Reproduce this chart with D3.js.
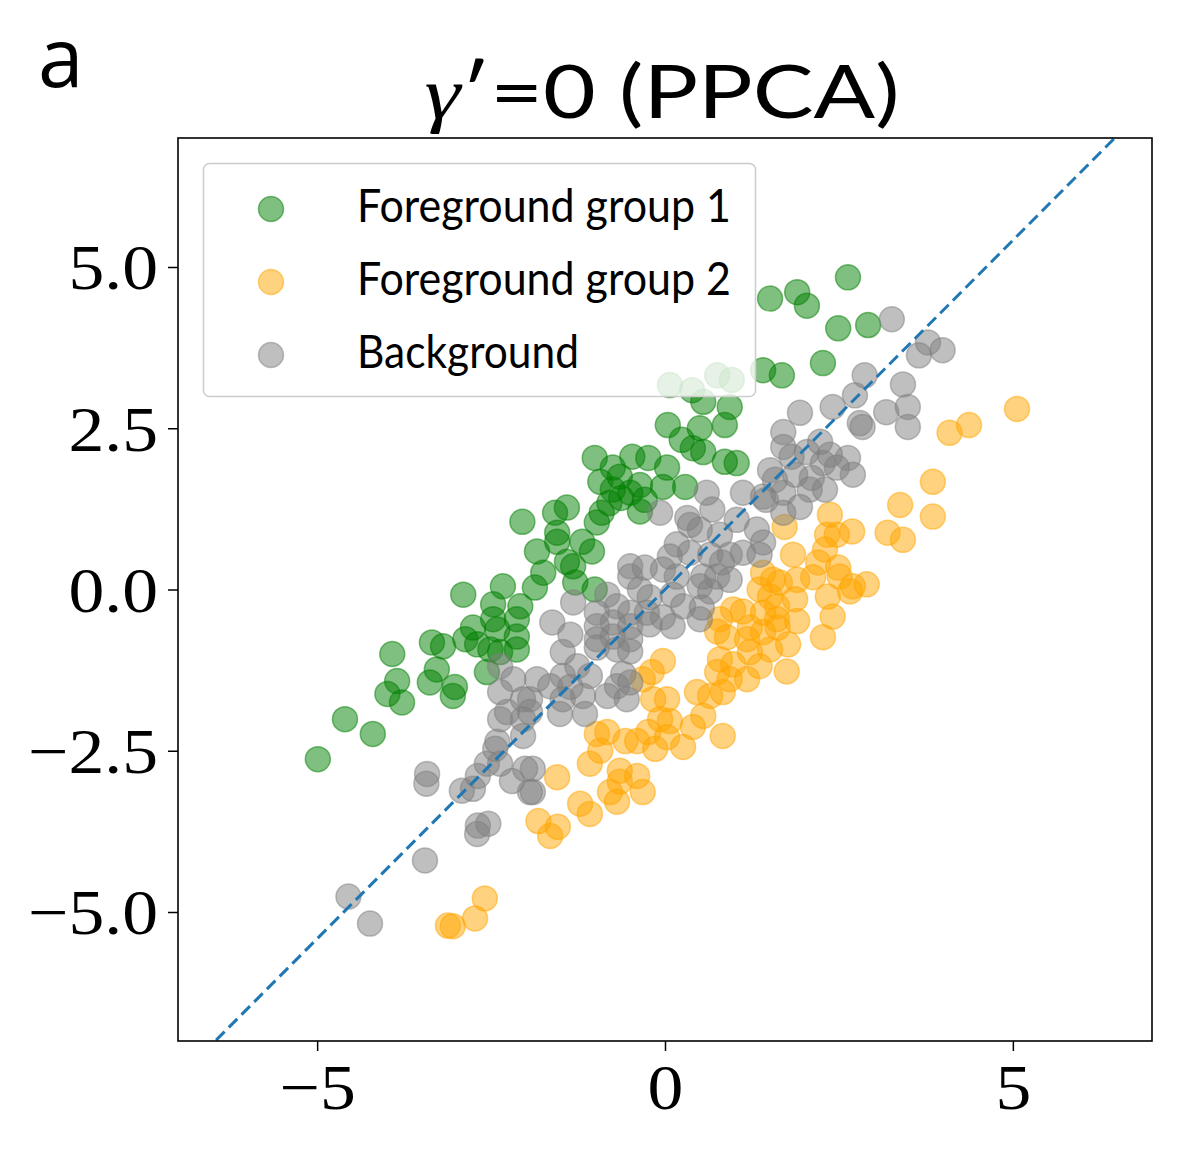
<!DOCTYPE html>
<html><head><meta charset="utf-8">
<script src="https://cdn.jsdelivr.net/npm/d3@7"></script>
<style>body{margin:0;background:#fff}</style>
</head><body>
<svg id="chart" width="1200" height="1159"></svg>
<script>
// ---- data ----
const seriesNames = ["Foreground group 1", "Foreground group 2", "Background"];
const seriesColors = ["#008000", "#FFA500", "#808080"];
const xTicks = [-5, 0, 5];
const xTickLabels = ["\u22125", "0", "5"];
const yTicks = [-5, -2.5, 0, 2.5, 5];
const yTickLabels = ["\u22125.0", "\u22122.5", "0.0", "2.5", "5.0"];
const pcLineX = [-7, 7];
const pcLineY = [-7.58, 7.58];

const group1 = [
[2.63,4.84],[1.90,4.61],[2.04,4.40],[1.51,4.51],[2.49,4.05],[2.92,4.10],[2.27,3.51],[1.68,3.32],[1.41,3.40],
[0.07,3.17],[0.39,3.09],[0.75,3.32],[0.96,3.25],[0.55,2.91],[0.93,2.83],[0.04,2.55],[0.50,2.50],[0.86,2.55],
[0.24,2.32],[0.40,2.19],[0.55,2.13],[0.86,1.98],[1.03,1.96],[-1.01,2.04],[-0.47,2.06],[-0.24,2.04],[0.03,1.89],
[0.29,1.59],[-0.75,1.89],[-0.65,1.75],[-0.93,1.67],[-0.36,1.62],[-0.80,1.34],[-0.63,1.42],
[-1.58,1.19],[-1.41,1.27],[-0.91,1.19],[-0.98,1.04],[-0.36,1.21],[-0.29,1.39],[-0.50,1.50],[-0.75,1.55],[-0.03,1.59],
[-1.55,0.88],[-1.55,0.74],[-1.84,0.59],[-1.19,0.74],[-1.05,0.59],[-1.41,0.43],[-1.32,0.36],[-1.75,0.26],[-1.87,0.03],
[-1.29,0.11],[-1.01,0.00],[-2.05,1.05],
[-2.90,-0.08],[-2.33,0.05],[-2.47,-0.23],[-2.08,-0.26],[-2.47,-0.46],[-2.13,-0.46],[-2.76,-0.59],[-2.87,-0.77],
[-2.70,-0.85],[-2.41,-0.62],[-2.13,-0.73],[-2.51,-0.93],[-2.37,-0.97],[-2.13,-0.93],[-3.35,-0.82],[-3.19,-0.88],
[-3.92,-1.00],[-3.28,-1.24],[-3.38,-1.44],[-3.85,-1.42],[-3.99,-1.62],[-3.78,-1.75],[-3.02,-1.51],[-3.05,-1.65],
[-2.56,-1.28],[-4.60,-2.01],[-4.20,-2.24],[-4.99,-2.63]
];
const group2 = [
[5.06,2.80],[4.37,2.55],[4.09,2.43],[3.85,1.67],[3.85,1.13],[3.38,1.31],[3.20,0.88],[3.42,0.77],
[2.37,1.16],[2.69,0.90],[2.33,0.85],[2.47,0.85],[2.30,0.62],[1.84,0.54],[2.20,0.42],[2.49,0.34],[2.13,0.19],
[2.51,0.20],[2.70,0.05],[2.90,0.08],[2.66,-0.03],[1.65,0.11],[1.90,0.15],[2.34,-0.11],[1.87,-0.15],[2.41,-0.42],
[1.90,-0.49],[2.27,-0.74],[1.62,-0.59],[1.77,-0.85],[1.75,-1.27],[1.72,0.97],
[1.41,0.26],[1.55,0.15],[1.36,0.00],[1.51,-0.11],[1.61,-0.26],[0.98,-0.31],[1.12,-0.34],[0.79,-0.46],[1.41,-0.36],
[1.61,-0.46],[0.75,-0.65],[0.89,-0.74],[1.22,-0.59],[1.18,-0.77],[1.41,-0.66],[1.51,-0.93],[1.22,-0.97],[0.79,-1.08],
[0.98,-1.16],[0.75,-1.28],[0.93,-1.39],[1.36,-1.19],[1.18,-1.39],[-0.03,-1.11],[-0.19,-1.28],[-0.32,-1.39],
[0.46,-1.59],[0.65,-1.65],[0.83,-1.59],[-0.17,-1.70],[0.03,-1.70],
[0.55,-1.96],[0.40,-2.13],[0.83,-2.27],[0.26,-2.44],[-0.07,-2.01],[0.07,-2.04],[-0.24,-2.21],[-0.40,-2.35],
[-0.57,-2.35],[-0.14,-2.47],[0.03,-2.29],[-0.98,-2.24],[-0.83,-2.21],[-0.93,-2.50],[-1.08,-2.70],[-1.55,-2.91],
[-0.65,-2.81],[-0.40,-2.89],[-0.65,-2.98],[-0.79,-3.14],[-0.69,-3.29],[-0.32,-3.14],[-1.22,-3.32],[-1.08,-3.48],
[-1.82,-3.59],[-1.54,-3.68],[-1.65,-3.82],[-2.59,-4.79],[-2.73,-5.10],[-3.12,-5.21],[-3.05,-5.22]
];
const background = [
[3.26,4.19],[3.78,3.83],[3.99,3.71],[3.65,3.63],[2.87,3.32],[3.42,3.18],[2.73,3.01],[2.41,2.83],[1.94,2.74],
[3.49,2.83],[3.18,2.75],[3.49,2.52],[2.80,2.58],[2.84,2.52],[1.70,2.44],[1.70,2.21],[2.23,2.29],[2.04,2.13],
[2.37,2.09],[2.63,2.04],[2.70,1.78],[2.47,1.89],[2.27,1.96],[1.82,2.06],
[2.08,1.55],[1.70,1.50],[1.94,1.28],[1.70,1.19],[1.51,1.85],[1.87,1.78],[2.11,1.73],[1.58,1.70],[2.30,1.55],[1.45,1.39],
[0.60,1.50],[-0.07,1.19],[0.32,1.11],[0.68,1.24],[0.50,0.93],[1.12,1.50],[1.41,1.44],[1.03,1.08],[1.32,0.93],
[1.41,0.73],[0.17,0.70],[0.07,0.51],[0.36,0.57],[0.65,0.54],[0.82,0.42],[0.93,0.54],[1.12,0.57],[1.36,0.54],
[-0.50,0.36],[-0.29,0.34],[-0.50,0.20],[-0.03,0.31],[0.17,0.20],[0.55,0.20],[0.75,0.20],[0.93,0.15],[0.50,0.05],
[0.65,-0.03],[0.36,1.00],[0.79,0.85],
[-1.32,-0.20],[-0.83,-0.08],[-0.36,0.00],[-0.22,-0.12],[0.11,-0.08],[0.26,-0.26],[0.53,-0.28],[-0.98,-0.36],
[-0.69,-0.26],[-0.50,-0.36],[-0.26,-0.36],[-0.03,-0.43],[0.11,-0.57],[-1.62,-0.51],[-0.98,-0.57],[-0.75,-0.51],
[-0.50,-0.57],[-0.22,-0.54],[0.50,-0.46],[-1.36,-0.70],[-0.98,-0.77],[-0.75,-0.73],[-0.50,-0.77],[-0.98,-0.90],
[-0.69,-0.93],[-0.50,-0.96],[-1.47,-0.97],[-1.26,-1.19],[-1.47,-1.34],[-1.08,-1.34],[-1.65,-1.50],[-1.36,-1.51],
[-0.60,-1.31],[-0.69,-1.50],[-0.50,-1.44],[-1.94,-1.70],[-1.47,-1.70],[-1.18,-1.65],[-0.83,-1.65],[-0.55,-1.70],
[-2.37,-1.19],[-2.18,-1.39],[-2.37,-1.59],[-2.04,-1.70],[-1.84,-1.39],
[-3.42,-2.86],[-3.43,-3.01],[-2.92,-3.12],[-2.76,-3.09],[-2.69,-2.89],[-2.56,-2.70],[-2.44,-2.47],[-2.41,-2.36],
[-2.37,-2.70],[-2.20,-2.97],[-2.01,-2.78],[-1.94,-3.14],[-2.69,-3.66],[-2.54,-3.63],[-2.70,-3.79],[-3.45,-4.20],
[-4.55,-4.76],[-4.24,-5.18],[-2.37,-2.01],[-2.27,-1.90],[-2.04,-2.01],[-2.04,-2.27],[-1.94,-1.90],
[-1.51,-1.93],[-1.15,-1.93],[-1.90,-2.78],[-1.90,-3.14]
];
const allSeries = [group1, group2, background];

// ---- layout ----
const svg = d3.select("#chart");
const L = 178, R = 1152, T = 138, B = 1041;
const x = d3.scaleLinear().domain([-7, 7]).range([L, R]);
const y = d3.scaleLinear().domain([-7, 7]).range([B, T]);

svg.append("rect").attr("width", 1200).attr("height", 1159).attr("fill", "#fff");

svg.append("defs").append("clipPath").attr("id", "clip")
  .append("rect").attr("x", L).attr("y", T).attr("width", R - L).attr("height", B - T);

const plot = svg.append("g").attr("clip-path", "url(#clip)");

// scatter
allSeries.forEach((data, i) => {
  plot.append("g").selectAll("circle").data(data).join("circle")
    .attr("cx", d => x(d[0])).attr("cy", d => y(d[1])).attr("r", 12.5)
    .attr("fill", seriesColors[i]).attr("fill-opacity", 0.5)
    .attr("stroke", seriesColors[i]).attr("stroke-opacity", 0.5).attr("stroke-width", 1.5);
});

// dashed principal line
plot.append("line")
  .attr("x1", x(pcLineX[0])).attr("y1", y(pcLineY[0]))
  .attr("x2", x(pcLineX[1])).attr("y2", y(pcLineY[1]))
  .attr("stroke", "#1f77b4").attr("stroke-width", 3).attr("stroke-dasharray", "12,6");

// frame
svg.append("rect").attr("x", L).attr("y", T).attr("width", R - L).attr("height", B - T)
  .attr("fill", "none").attr("stroke", "#000").attr("stroke-width", 1.6);

// axes
const xAxis = d3.axisBottom(x).tickValues(xTicks).tickFormat((d, i) => xTickLabels[i]).tickSize(10).tickPadding(8);
const yAxis = d3.axisLeft(y).tickValues(yTicks).tickFormat((d, i) => yTickLabels[i]).tickSize(10).tickPadding(10);
const gx = svg.append("g").attr("transform", `translate(0,${B})`).call(xAxis);
const gy = svg.append("g").attr("transform", `translate(${L},0)`).call(yAxis);
[gx, gy].forEach(g => {
  g.select(".domain").remove();
  g.selectAll(".tick line").attr("stroke", "#000").attr("stroke-width", 1.5);
  g.selectAll(".tick text").attr("fill", "#000")
    .style("font-family", "'Liberation Serif', serif").style("font-size", "64px");
});
gx.selectAll(".tick text").attr("dy", "0.78em");
gy.selectAll(".tick text").attr("dy", "0.34em");
[gx, gy].forEach(g => g.selectAll(".tick text").each(function() {
  const w = this.getComputedTextLength();
  d3.select(this).attr("textLength", w * 1.12).attr("lengthAdjust", "spacingAndGlyphs");
}));

// legend
const lg = svg.append("g");
lg.append("rect").attr("x", 203.5).attr("y", 163.5).attr("width", 552).attr("height", 233).attr("rx", 6)
  .attr("fill", "#fff").attr("fill-opacity", 0.8).attr("stroke", "#cccccc").attr("stroke-width", 1.5);
seriesNames.forEach((name, i) => {
  const cy = 209 + i * 73;
  lg.append("circle").attr("cx", 271).attr("cy", cy).attr("r", 12.5)
    .attr("fill", seriesColors[i]).attr("fill-opacity", 0.5)
    .attr("stroke", seriesColors[i]).attr("stroke-opacity", 0.5).attr("stroke-width", 1.5);
  const t = lg.append("text").attr("x", 357).attr("y", cy + 13).text(name)
    .style("font-family", "Lato, sans-serif").style("font-size", "46px").attr("fill", "#000");
  const targets = [374, 374, 222];
  t.attr("textLength", targets[i]).attr("lengthAdjust", "spacingAndGlyphs");
});

// title
const title = svg.append("text").attr("x", 662).attr("y", 118).attr("text-anchor", "middle")
  .style("font-family", "Lato, sans-serif").style("font-size", "74px").attr("fill", "#000");
title.append("tspan").text("\u03B3").style("font-family", "'Liberation Serif', serif").style("font-style", "italic");
title.append("tspan").text("\u2032=0 (PPCA)");
title.attr("textLength", 475).attr("lengthAdjust", "spacingAndGlyphs");

// panel label
svg.append("text").attr("x", 38).attr("y", 87).text("a")
  .style("font-family", "'Open Sans', sans-serif").style("font-size", "82px").attr("fill", "#000");
</script>
</body></html>
